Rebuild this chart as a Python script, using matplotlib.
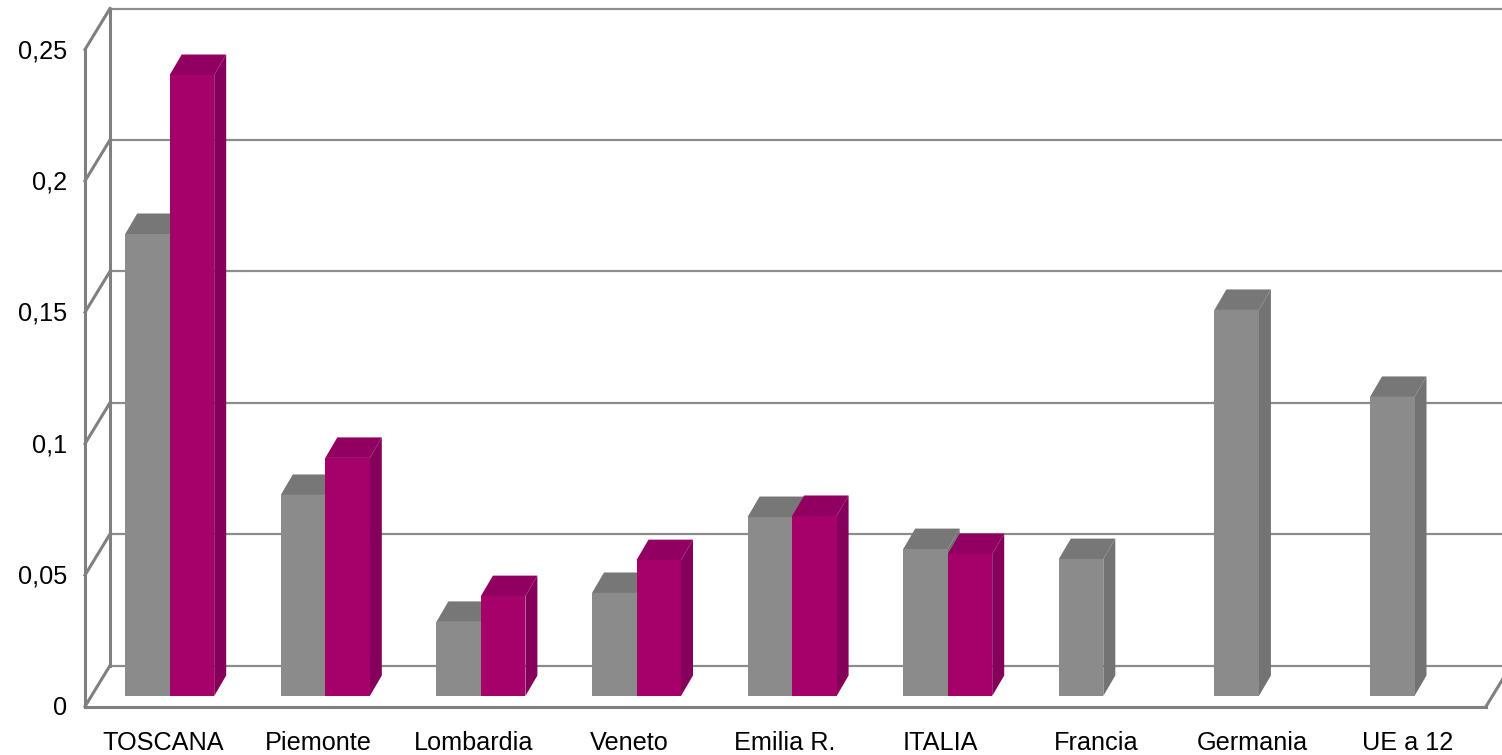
import matplotlib
matplotlib.use("Agg")
import matplotlib.pyplot as plt
from matplotlib.patches import Polygon

plt.rcParams['font.family'] = ['Liberation Sans', 'DejaVu Sans']

categories = ["TOSCANA", "Piemonte", "Lombardia", "Veneto", "Emilia R.", "ITALIA", "Francia", "Germania", "UE a 12"]
grey_vals = [0.1758, 0.0765, 0.0282, 0.0392, 0.0681, 0.0559, 0.0521, 0.1469, 0.1138]
magenta_vals = [0.2363, 0.0906, 0.038, 0.0517, 0.0685, 0.054, None, None, None]
y_ticks = [0, 0.05, 0.1, 0.15, 0.2, 0.25]
y_labels = ["0", "0,05", "0,1", "0,15", "0,2", "0,25"]

W, H = 1502, 755
PX_CAT = 155.6      # px per category
PX_VAL = 2628.0     # px per unit of value
X0, Y0 = 169.7, 706.5   # px of first group centre, px of the zero line

fig = plt.figure(figsize=(W / 100, H / 100), dpi=100)
ax = fig.add_axes([0, 0, 1, 1])
ax.set_xlim(-X0 / PX_CAT, (W - X0) / PX_CAT)
ax.set_ylim(-(H - Y0) / PX_VAL, Y0 / PX_VAL)
ax.axis('off')

# depth of the walls and of the bars, in data units
wall_dx, wall_dy = 25 / PX_CAT, 41 / PX_VAL
bar_dx, bar_dy = 12 / PX_CAT, 20.5 / PX_VAL
base_dy = 10.5 / PX_VAL
bar_w = 44.5 / PX_CAT
left_x = (85 - X0) / PX_CAT
right_x = (1486 - X0) / PX_CAT
edge = (W + 5 - X0) / PX_CAT
wall_col = '#808080'

# back wall and floor
for v in y_ticks:
    ax.plot([left_x + wall_dx, edge], [v + wall_dy] * 2, color='#8c8c8c', lw=1.6, zorder=1, solid_capstyle='butt')
    ax.plot([left_x, left_x + wall_dx], [v, v + wall_dy], color=wall_col, lw=2.2, zorder=1)
ax.plot([left_x, left_x], [0, 0.25], color=wall_col, lw=2.2, zorder=1)
ax.plot([left_x + wall_dx] * 2, [wall_dy, 0.25 + wall_dy], color=wall_col, lw=2.2, zorder=1)
ax.plot([left_x, right_x], [0, 0], color=wall_col, lw=2.2, zorder=1)
ax.plot([right_x, right_x + wall_dx], [0, wall_dy], color=wall_col, lw=2.2, zorder=1)


def draw_bar(x, v, front, top, side, z):
    y0 = base_dy
    y1 = base_dy + v
    ax.add_patch(Polygon([(x + bar_w, y0), (x + bar_w + bar_dx, y0 + bar_dy),
                          (x + bar_w + bar_dx, y1 + bar_dy), (x + bar_w, y1)], fc=side, ec='none', zorder=z))
    ax.add_patch(Polygon([(x, y1), (x + bar_dx, y1 + bar_dy),
                          (x + bar_w + bar_dx, y1 + bar_dy), (x + bar_w, y1)], fc=top, ec='none', zorder=z))
    ax.add_patch(Polygon([(x, y0), (x + bar_w, y0), (x + bar_w, y1), (x, y1)], fc=front, ec='none', zorder=z + 0.5))


for i, (g, m) in enumerate(zip(grey_vals, magenta_vals)):
    draw_bar(i - bar_w, g, '#8b8b8b', '#777777', '#737373', 3 + i)
    if m is not None:
        draw_bar(i, m, '#a6006b', '#910060', '#85005a', 3.2 + i)

for v, lab in zip(y_ticks, y_labels):
    ax.text((67 - X0) / PX_CAT, v - 1.5 / PX_VAL, lab, ha='right', va='center', fontsize=18.2, color='black')

for i, lab in enumerate(categories):
    ax.text(i - 7 / PX_CAT, -(742.5 - Y0) / PX_VAL, lab, ha='center', va='center', fontsize=18.2, color='black')

fig.savefig("out.png", dpi=100)
